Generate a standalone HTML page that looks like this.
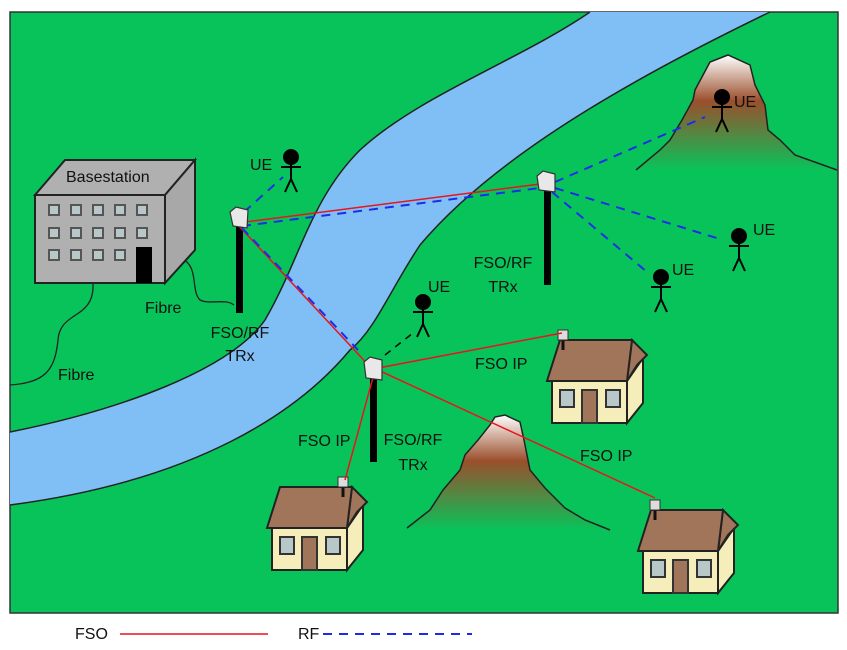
<!DOCTYPE html>
<html><head><meta charset="utf-8"><style>
html,body{margin:0;padding:0;background:#fff;}
svg{display:block;}
text{font-family:"Liberation Sans",sans-serif;font-size:16px;fill:#111;}
</style></head><body>
<svg width="847" height="650" viewBox="0 0 847 650" xmlns="http://www.w3.org/2000/svg">
<defs>
<linearGradient id="mg" x1="0" y1="0" x2="0" y2="1">
<stop offset="0" stop-color="#ffffff"/><stop offset="0.4" stop-color="#9a4f2c"/><stop offset="1" stop-color="#08c35a"/>
</linearGradient>
<g id="house">
<polygon points="67,41 83,18 83,63 67,83" fill="#f5eebb" stroke="#222" stroke-width="2"/>
<rect x="-8" y="41" width="75" height="42" fill="#f5eebb" stroke="#222" stroke-width="2"/>
<polygon points="72,0 87,15 77,25 67,41" fill="#a0755a" stroke="#222" stroke-width="2"/>
<polygon points="-13,41 0,0 72,0 67,41" fill="#a0755a" stroke="#222" stroke-width="2"/>
<rect x="0" y="50" width="14" height="17" fill="#b8c8c8" stroke="#333" stroke-width="2"/>
<rect x="46" y="50" width="14" height="17" fill="#b8c8c8" stroke="#333" stroke-width="2"/>
<rect x="22" y="50" width="15" height="33" fill="#a0755a" stroke="#333" stroke-width="2"/>
</g>
<g id="dev">
<rect x="-1.5" y="0" width="3" height="10" fill="#111"/>
<rect x="-5" y="-10" width="10" height="10" fill="#ddd" stroke="#333" stroke-width="1"/>
</g>
<g id="ue" stroke="#000" stroke-width="2" fill="none">
<circle cx="0" cy="0" r="7" fill="#000"/>
<line x1="0" y1="0" x2="0" y2="22"/><line x1="-10" y1="10" x2="10" y2="10"/>
<line x1="0" y1="22" x2="-6" y2="35"/><line x1="0" y1="22" x2="6" y2="35"/>
</g>
</defs>
<rect x="10" y="12" width="828" height="601" fill="#08c35a" stroke="#333" stroke-width="1.5"/>
<path d="M10,432 C120,410 230,370 265,320 C300,260 310,200 360,150 C420,95 520,60 590,12 L770,12 C650,70 500,150 420,245 C390,290 375,330 350,350 C300,410 200,480 10,505 Z" fill="#80bff5"/>
<path d="M10,432 C120,410 230,370 265,320 C300,260 310,200 360,150 C420,95 520,60 590,12" fill="none" stroke="#222" stroke-width="1.5"/>
<path d="M770,12 C650,70 500,150 420,245 C390,290 375,330 350,350 C300,410 200,480 10,505" fill="none" stroke="#222" stroke-width="1.5"/>
<!-- mountains -->
<path d="M636,170 L660,150 L670,140 L682,120 L693,100 L695,90 L710,62 L728,55 L750,65 L755,85 L765,105 L768,130 L780,140 L795,155 L837,170 Z" fill="url(#mg)"/>
<path d="M636,170 L660,150 L670,140 L682,120 L693,100 L695,90 L710,62 L728,55 L750,65 L755,85 L765,105 L768,130 L780,140 L795,155 L837,170" fill="none" stroke="#222" stroke-width="1.5"/>
<path d="M407,528 L430,510 L443,490 L460,470 L465,455 L478,440 L490,425 L495,417 L505,415 L520,422 L524,440 L530,470 L545,488 L565,508 L585,520 L610,530 Z" fill="url(#mg)"/>
<path d="M407,528 L430,510 L443,490 L460,470 L465,455 L478,440 L490,425 L495,417 L505,415 L520,422 L524,440 L530,470 L545,488 L565,508 L585,520 L610,530" fill="none" stroke="#222" stroke-width="1.5"/>
<!-- fibre -->
<path d="M180,258 C200,265 190,290 200,300 C210,305 225,298 234,305" fill="none" stroke="#222" stroke-width="1.3"/>
<path d="M93,283 C95,320 60,310 58,340 C55,370 45,383 10,385" fill="none" stroke="#222" stroke-width="1.3"/>
<!-- basestation -->
<polygon points="35,195 65,160 195,160 165,195" fill="#b0b0b0" stroke="#222" stroke-width="2"/>
<polygon points="165,195 195,160 195,250 165,283" fill="#a8a8a8" stroke="#222" stroke-width="2"/>
<rect x="35" y="195" width="130" height="88" fill="#b0b0b0" stroke="#222" stroke-width="2"/>
<g fill="#b8c8c8" stroke="#555" stroke-width="2">
<rect x="49" y="205" width="10" height="10"/><rect x="71" y="205" width="10" height="10"/><rect x="93" y="205" width="10" height="10"/><rect x="115" y="205" width="10" height="10"/><rect x="137" y="205" width="10" height="10"/>
<rect x="49" y="228" width="10" height="10"/><rect x="71" y="228" width="10" height="10"/><rect x="93" y="228" width="10" height="10"/><rect x="115" y="228" width="10" height="10"/><rect x="137" y="228" width="10" height="10"/>
<rect x="49" y="250" width="10" height="10"/><rect x="71" y="250" width="10" height="10"/><rect x="93" y="250" width="10" height="10"/><rect x="115" y="250" width="10" height="10"/>
</g>
<rect x="136" y="247" width="16" height="36" fill="#000"/>
<text x="66" y="182">Basestation</text>
<!-- houses -->
<use href="#house" x="280" y="487"/>
<use href="#house" x="560" y="340"/>
<use href="#house" x="651" y="510"/>
<use href="#dev" x="343" y="487"/>
<use href="#dev" x="563" y="340"/>
<use href="#dev" x="655" y="510"/>
<!-- towers -->
<rect x="236" y="225" width="7" height="88" fill="#000"/>
<rect x="544" y="188" width="7" height="97" fill="#000"/>
<rect x="370" y="376" width="7" height="86" fill="#000"/>
<!-- links -->
<g stroke="#e8141e" stroke-width="1.5" fill="none">
<line x1="245" y1="222" x2="540" y2="184"/>
<line x1="238" y1="225" x2="373" y2="370"/>
<line x1="375" y1="370" x2="345" y2="480"/>
<line x1="378" y1="368" x2="562" y2="333"/>
<line x1="378" y1="370" x2="655" y2="498"/>
</g>
<g stroke="#1a2ee8" stroke-width="2" stroke-dasharray="9,7" fill="none">
<line x1="242" y1="226" x2="540" y2="188"/>
<line x1="242" y1="228" x2="358" y2="350"/>
<line x1="244" y1="212" x2="283" y2="177"/>
<line x1="555" y1="182" x2="705" y2="117"/>
<line x1="555" y1="188" x2="723" y2="240"/>
<line x1="552" y1="192" x2="647" y2="272"/>
</g>
<line x1="385" y1="355" x2="413" y2="333" stroke="#000" stroke-width="1.5" stroke-dasharray="7,6"/>
<g fill="#e8e8e8" stroke="#333" stroke-width="1.2">
<polygon points="230,212 236,207 248,210 247,228 233,226"/>
<polygon points="537,176 543,171 555,174 555,192 539,190"/>
<polygon points="364,362 370,357 382,360 382,380 366,378"/>
</g>
<!-- UEs -->
<use href="#ue" x="291" y="157"/>
<use href="#ue" x="722" y="97"/>
<use href="#ue" x="739" y="236"/>
<use href="#ue" x="661" y="277"/>
<use href="#ue" x="423" y="302"/>
<text x="250" y="170">UE</text>
<text x="734" y="107">UE</text>
<text x="753" y="235">UE</text>
<text x="672" y="275">UE</text>
<text x="428" y="292">UE</text>
<!-- labels -->
<text x="145" y="313">Fibre</text>
<text x="58" y="380">Fibre</text>
<g text-anchor="middle">
<text x="240" y="338">FSO/RF</text><text x="240" y="361">TRx</text>
<text x="503" y="268">FSO/RF</text><text x="503" y="292">TRx</text>
<text x="413" y="445">FSO/RF</text><text x="413" y="470">TRx</text>
</g>
<text x="475" y="369">FSO IP</text>
<text x="298" y="446">FSO IP</text>
<text x="580" y="461">FSO IP</text>
<!-- legend -->
<text x="75" y="639">FSO</text>
<line x1="120" y1="634" x2="268" y2="634" stroke="#e8141e" stroke-width="1.5"/>
<text x="298" y="639">RF</text>
<line x1="323" y1="634" x2="472" y2="634" stroke="#1a2ee8" stroke-width="2" stroke-dasharray="9,7"/>
</svg>
</body></html>
